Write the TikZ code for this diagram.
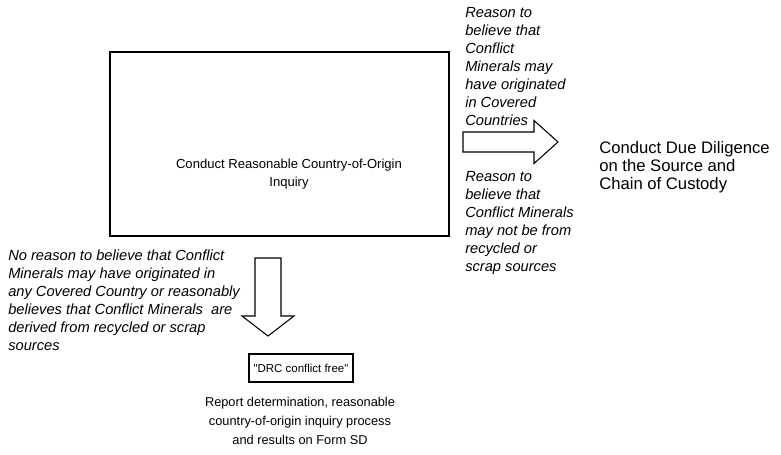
\documentclass[tikz,border=0pt]{standalone}
\usepackage{fontspec}
\setmainfont{Liberation Sans}
% same family without the TeX mapping, so that " stays a straight quote
\newfontfamily\drcfont{Liberation Sans}[Ligatures=TeXOff]
\begin{document}
\begin{tikzpicture}[x=0.75pt,y=-0.75pt,
  box/.style={draw, line width=0.8pt, inner sep=0pt},
  blockarrow/.style={draw, line width=0.8pt, fill=white, line join=miter},
  note/.style={font=\fontsize{11}{13.5}\selectfont\itshape, align=left, inner sep=0pt, anchor=base west},
  plain/.style={inner sep=0pt, anchor=base}]
\useasboundingbox (0,0) rectangle (781,454);

% inquiry step
\node[box, minimum width=339*0.75pt, minimum height=184*0.75pt] (inq) at (279.5,144) {};
\node[plain, font=\fontsize{9.8}{13.5}\selectfont, align=center] (inqtext) at (289,186)
  {Conduct Reasonable Country-of-Origin\\Inquiry};

% due diligence step
\node[inner sep=0pt, anchor=base west, align=left, font=\fontsize{12.5}{13.5}\selectfont] (dd) at (599,189)
  {Conduct Due Diligence\\on the Source and\\Chain of Custody};

% outcome box and report text
\node[box, minimum width=104*0.75pt, minimum height=28*0.75pt] (drc) at (301,368) {};
\node[plain, font=\drcfont\fontsize{8.6}{13.5}\selectfont] (drctext) at (301,372.5)
  {"DRC conflict free"};
\node[plain, font=\fontsize{9.6}{14.2}\selectfont, align=center] (report) at (300,444)
  {Report determination, reasonable\\country-of-origin inquiry process\\and results on Form SD};

% condition notes
\node[note] (yes) at (465,125)
  {Reason to\\believe that\\Conflict\\Minerals may\\have originated\\in Covered\\Countries};
\node[note] (notrec) at (465,271)
  {Reason to\\believe that\\Conflict Minerals\\may not be from\\recycled or\\scrap sources};
\node[note] (no) at (8,350)
  {No reason to believe that Conflict\\Minerals may have originated in\\any Covered Country or reasonably\\believes that Conflict Minerals\ \ are\\derived from recycled or scrap\\sources};

% block arrow towards due diligence
\coordinate (ra) at (463,142);
\draw[blockarrow] (ra) ++(0,-10) -- ++(71,0) -- ++(0,-11.5) -- ++(24,21.5)
  -- ++(-24,21.5) -- ++(0,-11.5) -- ++(-71,0) -- cycle;

% block arrow towards the outcome
\coordinate (da) at (268,258);
\draw[blockarrow] (da) ++(-13,0) -- ++(26,0) -- ++(0,58) -- ++(13,0)
  -- ++(-26,20) -- ++(-26,-20) -- ++(13,0) -- cycle;
\end{tikzpicture}
\end{document}
